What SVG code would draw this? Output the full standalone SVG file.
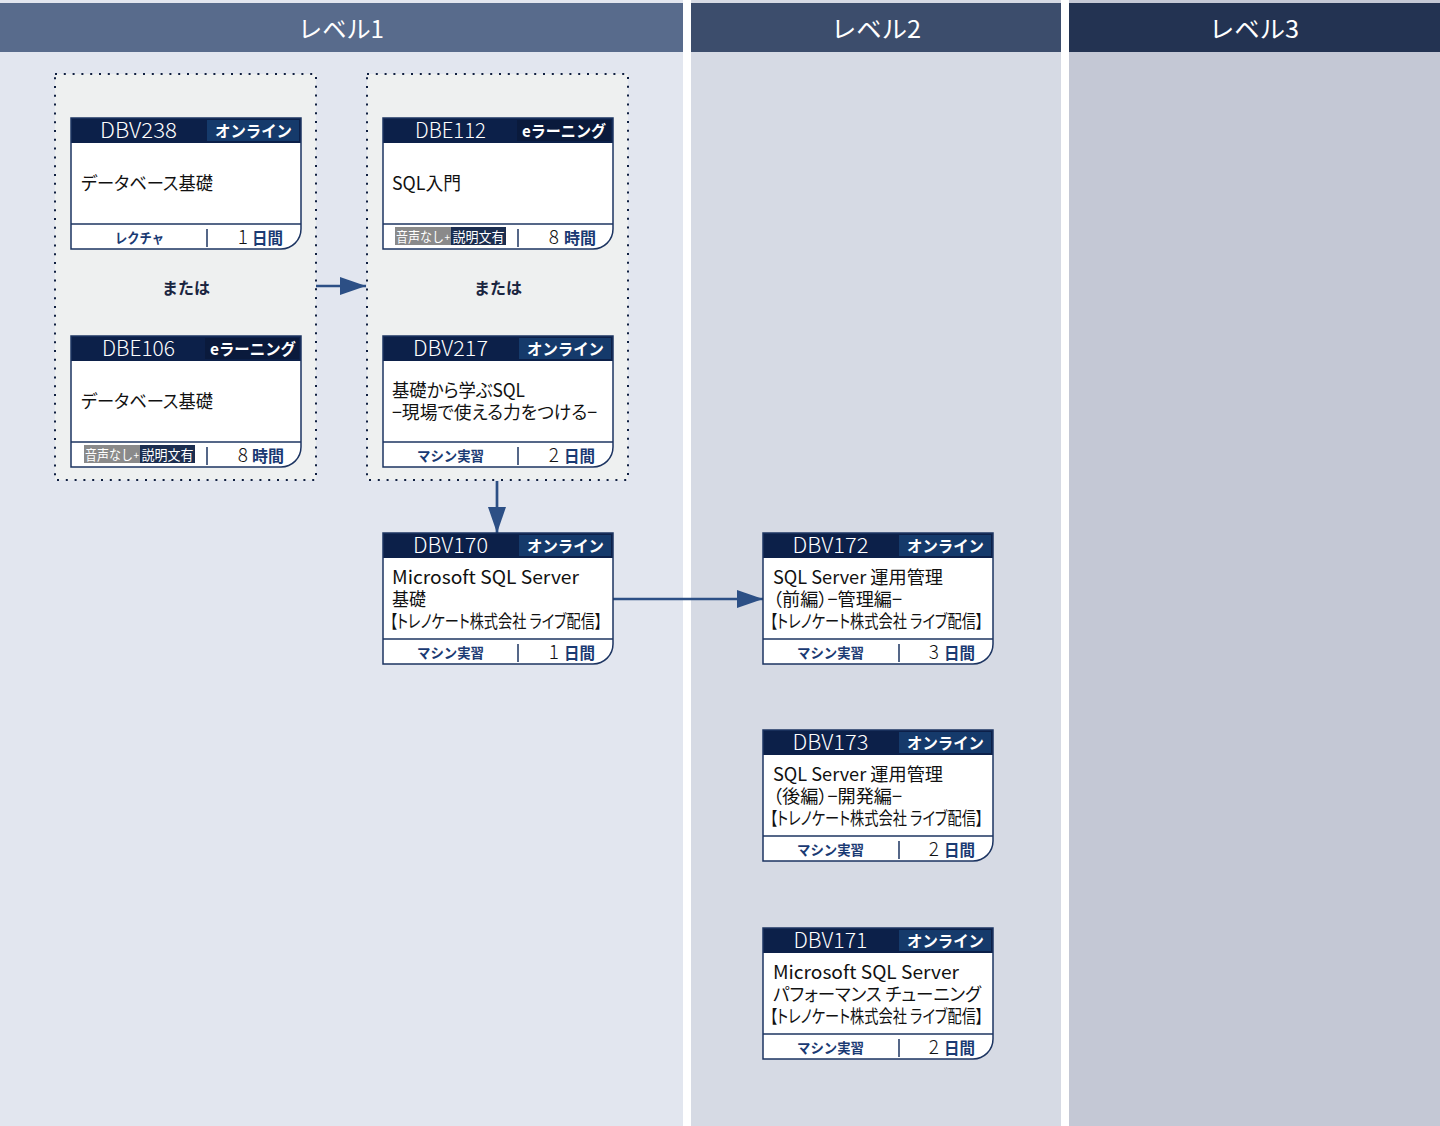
<svg xmlns="http://www.w3.org/2000/svg" width="1440" height="1126" viewBox="0 0 1440 1126">
<style>
text{font-family:'Noto Sans CJK JP','Noto Sans',sans-serif}
.colh{fill:#fff;font-size:24px;text-anchor:middle}
.card{fill:#fff}
.cardline{fill:none;stroke:#1c3461;stroke-width:1.5}
.hd{fill:#0c2049}
.on{fill:#153a6b}
.el{fill:#0a1a3c}
.code{fill:#fff;font-size:21px;font-weight:300;text-anchor:middle}
.tag{fill:#fff;font-size:16px;font-weight:700;text-anchor:middle}
.body{fill:#111;font-size:18px;font-feature-settings:"palt"}
.sep{stroke:#1c3461;stroke-width:1.5}
.div{stroke:#1c3461;stroke-width:1.5}
.ft{fill:#1a3a73;font-size:14px;font-weight:700;text-anchor:middle}
.num{fill:#111;font-size:19px;font-weight:300;text-anchor:end}
.unit{fill:#1a3a73;font-size:16px;font-weight:700}
.bg1{fill:#8a8a8a}
.bg2{fill:#1c2e50}
.bt{fill:#fff;font-size:13.5px}
.plus{fill:#fff;font-size:10px}
.grp{fill:#eef0f0;stroke:#0f1f40;stroke-width:2;stroke-dasharray:2 6.8}
.or{fill:#1a2540;font-size:16px;font-weight:700;text-anchor:middle}
.conn{stroke:#2c4f85;stroke-width:2.7;fill:none}
</style>
<defs>
<marker id="ah" markerUnits="userSpaceOnUse" markerWidth="26" markerHeight="18" refX="26" refY="9" orient="auto"><path d="M0,0L26,9L0,18Z" fill="#2c4f85"/></marker>
</defs>
<rect width="1440" height="1126" fill="#fff"/>
<g id="columns">
<rect x="0" y="0" width="683" height="1126" fill="#e2e6ef"/>
<rect x="691" y="0" width="370" height="1126" fill="#d6dae4"/>
<rect x="1069" y="0" width="371" height="1126" fill="#c4c8d5"/>
<rect x="0" y="3" width="683" height="49" fill="#586b8c"/>
<rect x="691" y="3" width="370" height="49" fill="#3c4d6c"/>
<rect x="1069" y="3" width="371" height="49" fill="#233352"/>
<text class="colh" x="341" y="38" textLength="86" lengthAdjust="spacingAndGlyphs">レベル1</text>
<text class="colh" x="876" y="38" textLength="90" lengthAdjust="spacingAndGlyphs">レベル2</text>
<text class="colh" x="1254" y="38" textLength="90" lengthAdjust="spacingAndGlyphs">レベル3</text>
</g>
<g id="group-a">
<rect class="grp" x="55" y="74" width="261" height="406"/>
<text class="or" x="186" y="294">または</text>
</g>
<g id="group-b">
<rect class="grp" x="367" y="74" width="261" height="406"/>
<text class="or" x="498" y="294">または</text>
</g>
<g id="connectors">
<line class="conn" x1="316" y1="286" x2="366" y2="286" marker-end="url(#ah)"/>
<line class="conn" x1="497" y1="481" x2="497" y2="533" marker-end="url(#ah)"/>
<line class="conn" x1="612" y1="599" x2="763" y2="599" marker-end="url(#ah)"/>
</g>

<g id="DBV238" transform="translate(71,118)">
<path class="card" d="M0,0H230V111A20,20 0 0 1 210,131H0Z"/>
<rect class="hd" width="230" height="25"/>
<rect class="on" x="136" y="2" width="92" height="21"/>
<text class="code" x="67.5" y="20" textLength="77" lengthAdjust="spacingAndGlyphs">DBV238</text>
<text class="tag" x="182.5" y="19" textLength="77" lengthAdjust="spacingAndGlyphs">オンライン</text>
<text class="body" x="10" y="72" textLength="132" lengthAdjust="spacingAndGlyphs">データベース基礎</text>
<line class="sep" x1="0" y1="106" x2="230" y2="106"/>
<line class="div" x1="136" y1="111" x2="136" y2="129"/>
<text class="ft" x="68.5" y="125" textLength="49" lengthAdjust="spacingAndGlyphs">レクチャ</text>
<text class="num" x="177" y="126">1</text>
<text class="unit" x="181" y="126" textLength="31" lengthAdjust="spacingAndGlyphs">日間</text>
<path class="cardline" d="M0,0H230V111A20,20 0 0 1 210,131H0Z"/>
</g>

<g id="DBE106" transform="translate(71,336)">
<path class="card" d="M0,0H230V111A20,20 0 0 1 210,131H0Z"/>
<rect class="hd" width="230" height="25"/>
<rect class="el" x="134" y="2" width="94" height="21"/>
<text class="code" x="67.5" y="20" textLength="73" lengthAdjust="spacingAndGlyphs">DBE106</text>
<text class="tag" x="182" y="19" textLength="86" lengthAdjust="spacingAndGlyphs">eラーニング</text>
<text class="body" x="10" y="72" textLength="132" lengthAdjust="spacingAndGlyphs">データベース基礎</text>
<line class="sep" x1="0" y1="106" x2="230" y2="106"/>
<rect class="bg1" x="13" y="109" width="56" height="18"/>
<rect class="bg2" x="69" y="109" width="55" height="18"/>
<text class="bt" x="14" y="124" textLength="48" lengthAdjust="spacingAndGlyphs">音声なし</text>
<text class="plus" x="62.5" y="123">+</text>
<text class="bt" x="70.5" y="124" textLength="52" lengthAdjust="spacingAndGlyphs">説明文有</text>
<line class="div" x1="136" y1="111" x2="136" y2="129"/>
<text class="num" x="177" y="126">8</text>
<text class="unit" x="181" y="126" textLength="32" lengthAdjust="spacingAndGlyphs">時間</text>
<path class="cardline" d="M0,0H230V111A20,20 0 0 1 210,131H0Z"/>
</g>

<g id="DBE112" transform="translate(383,118)">
<path class="card" d="M0,0H230V111A20,20 0 0 1 210,131H0Z"/>
<rect class="hd" width="230" height="25"/>
<rect class="el" x="134" y="2" width="94" height="21"/>
<text class="code" x="67.5" y="20" textLength="71" lengthAdjust="spacingAndGlyphs">DBE112</text>
<text class="tag" x="181" y="19" textLength="84" lengthAdjust="spacingAndGlyphs">eラーニング</text>
<text class="body" x="9" y="72" textLength="69" lengthAdjust="spacingAndGlyphs">SQL入門</text>
<line class="sep" x1="0" y1="106" x2="230" y2="106"/>
<rect class="bg1" x="12" y="109" width="56" height="18"/>
<rect class="bg2" x="68" y="109" width="55" height="18"/>
<text class="bt" x="13" y="124" textLength="48" lengthAdjust="spacingAndGlyphs">音声なし</text>
<text class="plus" x="61.5" y="123">+</text>
<text class="bt" x="69.5" y="124" textLength="52" lengthAdjust="spacingAndGlyphs">説明文有</text>
<line class="div" x1="135" y1="111" x2="135" y2="129"/>
<text class="num" x="176" y="126">8</text>
<text class="unit" x="181" y="126" textLength="32" lengthAdjust="spacingAndGlyphs">時間</text>
<path class="cardline" d="M0,0H230V111A20,20 0 0 1 210,131H0Z"/>
</g>

<g id="DBV217" transform="translate(383,336)">
<path class="card" d="M0,0H230V111A20,20 0 0 1 210,131H0Z"/>
<rect class="hd" width="230" height="25"/>
<rect class="on" x="136" y="2" width="92" height="21"/>
<text class="code" x="67.5" y="20" textLength="75" lengthAdjust="spacingAndGlyphs">DBV217</text>
<text class="tag" x="182.5" y="19" textLength="77" lengthAdjust="spacingAndGlyphs">オンライン</text>
<text class="body" x="9" y="61" textLength="133" lengthAdjust="spacingAndGlyphs">基礎から学ぶSQL</text>
<text class="body" x="9" y="83" textLength="205" lengthAdjust="spacingAndGlyphs">−現場で使える力をつける−</text>
<line class="sep" x1="0" y1="106" x2="230" y2="106"/>
<line class="div" x1="135" y1="111" x2="135" y2="129"/>
<text class="ft" x="67.5" y="125" textLength="67" lengthAdjust="spacingAndGlyphs">マシン実習</text>
<text class="num" x="176" y="126">2</text>
<text class="unit" x="181" y="126" textLength="31" lengthAdjust="spacingAndGlyphs">日間</text>
<path class="cardline" d="M0,0H230V111A20,20 0 0 1 210,131H0Z"/>
</g>

<g id="DBV170" transform="translate(383,533)">
<path class="card" d="M0,0H230V111A20,20 0 0 1 210,131H0Z"/>
<rect class="hd" width="230" height="25"/>
<rect class="on" x="136" y="2" width="92" height="21"/>
<text class="code" x="67.5" y="20" textLength="75" lengthAdjust="spacingAndGlyphs">DBV170</text>
<text class="tag" x="182.5" y="19" textLength="77" lengthAdjust="spacingAndGlyphs">オンライン</text>
<text class="body" x="9" y="51" textLength="187" lengthAdjust="spacingAndGlyphs">Microsoft SQL Server</text>
<text class="body" x="9" y="73" textLength="34" lengthAdjust="spacingAndGlyphs">基礎</text>
<text class="body" x="7" y="95" textLength="212" lengthAdjust="spacingAndGlyphs">【トレノケート株式会社 ライブ配信】</text>
<line class="sep" x1="0" y1="106" x2="230" y2="106"/>
<line class="div" x1="135" y1="111" x2="135" y2="129"/>
<text class="ft" x="67.5" y="125" textLength="67" lengthAdjust="spacingAndGlyphs">マシン実習</text>
<text class="num" x="176" y="126">1</text>
<text class="unit" x="181" y="126" textLength="31" lengthAdjust="spacingAndGlyphs">日間</text>
<path class="cardline" d="M0,0H230V111A20,20 0 0 1 210,131H0Z"/>
</g>

<g id="DBV172" transform="translate(763,533)">
<path class="card" d="M0,0H230V111A20,20 0 0 1 210,131H0Z"/>
<rect class="hd" width="230" height="25"/>
<rect class="on" x="136" y="2" width="92" height="21"/>
<text class="code" x="67.5" y="20" textLength="76" lengthAdjust="spacingAndGlyphs">DBV172</text>
<text class="tag" x="182.5" y="19" textLength="77" lengthAdjust="spacingAndGlyphs">オンライン</text>
<text class="body" x="10" y="51" textLength="170" lengthAdjust="spacingAndGlyphs">SQL Server 運用管理</text>
<text class="body" x="10" y="73" textLength="129" lengthAdjust="spacingAndGlyphs">（前編）−管理編−</text>
<text class="body" x="7" y="95" textLength="213" lengthAdjust="spacingAndGlyphs">【トレノケート株式会社 ライブ配信】</text>
<line class="sep" x1="0" y1="106" x2="230" y2="106"/>
<line class="div" x1="136" y1="111" x2="136" y2="129"/>
<text class="ft" x="67.5" y="125" textLength="67" lengthAdjust="spacingAndGlyphs">マシン実習</text>
<text class="num" x="176" y="126">3</text>
<text class="unit" x="181" y="126" textLength="31" lengthAdjust="spacingAndGlyphs">日間</text>
<path class="cardline" d="M0,0H230V111A20,20 0 0 1 210,131H0Z"/>
</g>

<g id="DBV173" transform="translate(763,730)">
<path class="card" d="M0,0H230V111A20,20 0 0 1 210,131H0Z"/>
<rect class="hd" width="230" height="25"/>
<rect class="on" x="136" y="2" width="92" height="21"/>
<text class="code" x="67.5" y="20" textLength="76" lengthAdjust="spacingAndGlyphs">DBV173</text>
<text class="tag" x="182.5" y="19" textLength="77" lengthAdjust="spacingAndGlyphs">オンライン</text>
<text class="body" x="10" y="51" textLength="170" lengthAdjust="spacingAndGlyphs">SQL Server 運用管理</text>
<text class="body" x="10" y="73" textLength="129" lengthAdjust="spacingAndGlyphs">（後編）−開発編−</text>
<text class="body" x="7" y="95" textLength="213" lengthAdjust="spacingAndGlyphs">【トレノケート株式会社 ライブ配信】</text>
<line class="sep" x1="0" y1="106" x2="230" y2="106"/>
<line class="div" x1="136" y1="111" x2="136" y2="129"/>
<text class="ft" x="67.5" y="125" textLength="67" lengthAdjust="spacingAndGlyphs">マシン実習</text>
<text class="num" x="176" y="126">2</text>
<text class="unit" x="181" y="126" textLength="31" lengthAdjust="spacingAndGlyphs">日間</text>
<path class="cardline" d="M0,0H230V111A20,20 0 0 1 210,131H0Z"/>
</g>

<g id="DBV171" transform="translate(763,928)">
<path class="card" d="M0,0H230V111A20,20 0 0 1 210,131H0Z"/>
<rect class="hd" width="230" height="25"/>
<rect class="on" x="136" y="2" width="92" height="21"/>
<text class="code" x="67.5" y="20" textLength="74" lengthAdjust="spacingAndGlyphs">DBV171</text>
<text class="tag" x="182.5" y="19" textLength="77" lengthAdjust="spacingAndGlyphs">オンライン</text>
<text class="body" x="10" y="51" textLength="186" lengthAdjust="spacingAndGlyphs">Microsoft SQL Server</text>
<text class="body" x="10" y="73" textLength="208" lengthAdjust="spacingAndGlyphs">パフォーマンス チューニング</text>
<text class="body" x="7" y="95" textLength="213" lengthAdjust="spacingAndGlyphs">【トレノケート株式会社 ライブ配信】</text>
<line class="sep" x1="0" y1="106" x2="230" y2="106"/>
<line class="div" x1="136" y1="111" x2="136" y2="129"/>
<text class="ft" x="67.5" y="125" textLength="67" lengthAdjust="spacingAndGlyphs">マシン実習</text>
<text class="num" x="176" y="126">2</text>
<text class="unit" x="181" y="126" textLength="31" lengthAdjust="spacingAndGlyphs">日間</text>
<path class="cardline" d="M0,0H230V111A20,20 0 0 1 210,131H0Z"/>
</g>
</svg>
